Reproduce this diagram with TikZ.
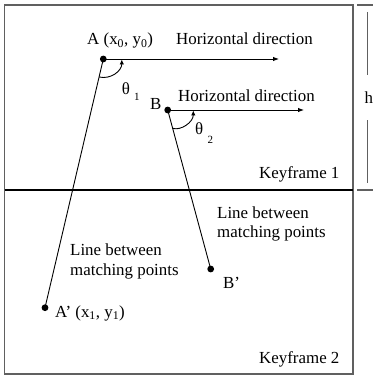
\documentclass[tikz,border=0pt]{standalone}
\usepackage{fontspec}
\setmainfont{Liberation Serif}
\usetikzlibrary{arrows.meta}
\definecolor{framegray}{HTML}{606060}
\begin{document}
\begin{tikzpicture}[x=1pt,y=-1pt,
  font=\fontsize{16.9}{19}\selectfont,
  dot/.style={circle,fill=black,inner sep=0pt,minimum size=6.8pt},
  lbl/.style={anchor=base west,inner sep=0pt},
  link/.style={line width=0.9pt},
  harrow/.style={line width=0.9pt,-{Latex[length=6pt,width=4.5pt]}},
  angarrow/.style={line width=0.9pt,-{Latex[length=5pt,width=4.5pt]}},
  frameline/.style={draw=framegray,line width=1.3pt},
  brace/.style={draw=framegray,line width=1.1pt}]
\useasboundingbox (0,0) rectangle (373,377);
% frames
\draw[frameline] (4.7,5) rectangle (353,374);
\draw[line width=1.2pt] (4.7,190) -- (353,190);
% height bracket
\draw[brace] (357,5) -- (373,5);
\draw[brace] (357,190) -- (373,190);
\draw[brace] (367.7,12) -- (367.7,75);
\draw[brace] (367.7,120) -- (367.7,183);
\node[lbl] (h) at (364.5,103) {h};
% points
\node[dot] (A) at (103.3,59) {};
\node[dot] (B) at (167.7,110) {};
\node[dot] (A2) at (45,307.7) {};
\node[dot] (B2) at (210.7,269) {};
\coordinate (Aend) at (279,59);
\coordinate (Bend) at (304,110);
% connectors
\draw[link] (A.center) -- (A2.center);
\draw[link] (B.center) -- (B2.center);
\draw[harrow] (A.center) -- (Aend);
\draw[harrow] (B.center) -- (Bend);
% angle arcs
\draw[angarrow] (99.1,77) .. controls (110.7,79.7) and (121.8,70.9) .. (121.8,59.5);
\draw[angarrow] (172.5,128.3) .. controls (181,131) and (193.3,122) .. (193.3,110.5);
% labels
\node[lbl] (Alab) at (87,45) {A (x\textsubscript{0}, y\textsubscript{0})};
\node[lbl] (hd1) at (176,45) {Horizontal direction};
\node[lbl] (t1) at (121.7,95) {θ \raisebox{-6pt}{\fontsize{11}{11}\selectfont 1}};
\node[lbl] (Blab) at (150,110) {B};
\node[lbl] (hd2) at (178,102) {Horizontal direction};
\node[lbl] (t2) at (195,135) {θ \raisebox{-9pt}{\fontsize{11}{11}\selectfont 2}};
\node[lbl] (k1) at (259,178) {Keyframe 1};
\node[lbl] (lr1) at (217,218) {Line between};
\node[lbl] (lr2) at (217,237) {matching points};
\node[lbl] (ll1) at (70,255) {Line between};
\node[lbl] (ll2) at (70,275) {matching points};
\node[lbl] (B2lab) at (223,288) {B’};
\node[lbl] (A2lab) at (55,317) {A’ (x\textsubscript{1}, y\textsubscript{1})};
\node[lbl] (k2) at (259,363) {Keyframe 2};
\end{tikzpicture}
\end{document}
